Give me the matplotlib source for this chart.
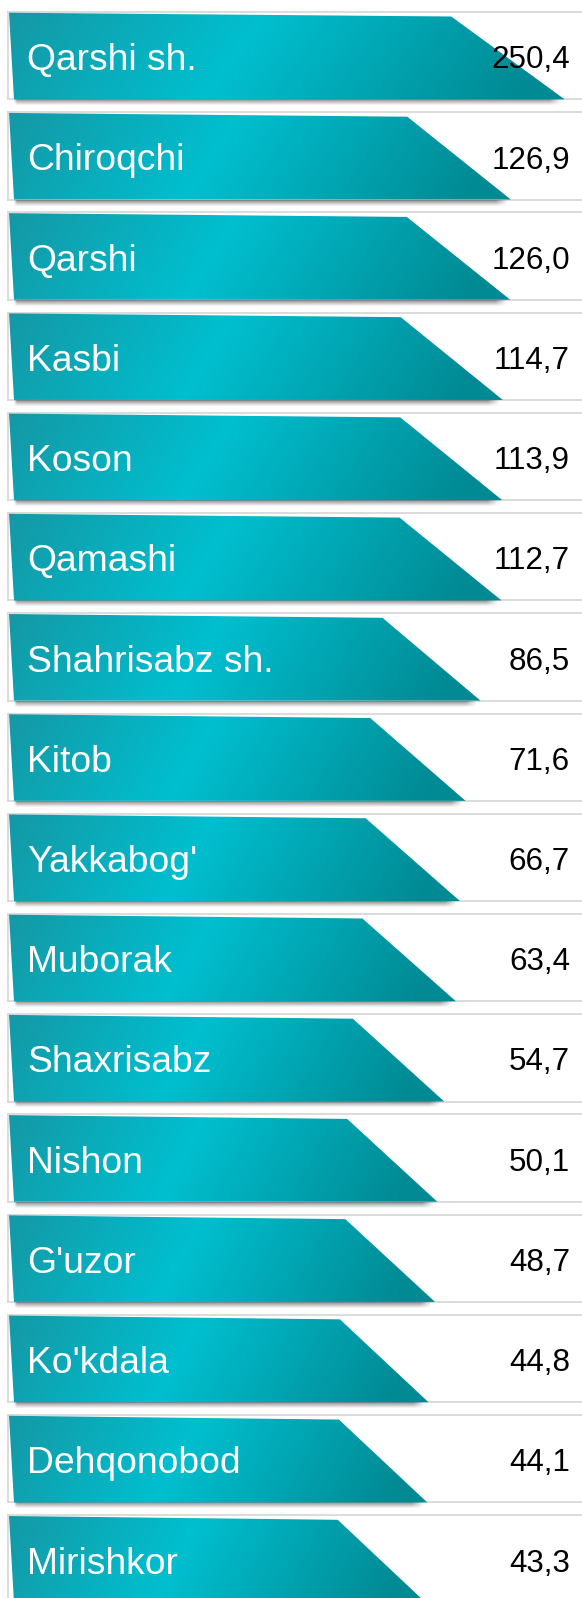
import numpy as np
import matplotlib
matplotlib.use("Agg")
import matplotlib.pyplot as plt
from matplotlib.patches import Polygon
from matplotlib import transforms
from matplotlib.colors import to_rgb

# ---- data ----
categories = ["Qarshi sh.", "Chiroqchi", "Qarshi", "Kasbi", "Koson", "Qamashi",
              "Shahrisabz sh.", "Kitob", "Yakkabog'", "Muborak", "Shaxrisabz",
              "Nishon", "G'uzor", "Ko'kdala", "Dehqonobod", "Mirishkor"]
values = [250.4, 126.9, 126.0, 114.7, 113.9, 112.7, 86.5, 71.6, 66.7, 63.4,
          54.7, 50.1, 48.7, 44.8, 44.1, 43.3]
value_labels = [f"{v:.1f}".replace(".", ",") for v in values]

# ---- layout / style ----
W, H = 582, 1598
PITCH = 100.22
TOP0 = 12.0
BAR_H = 87.3
FONT = "Liberation Sans"
C_LEFT = np.array(to_rgb("#1696a3"))
C_BRIGHT = np.array(to_rgb("#00bfcf"))
C_RIGHT = np.array(to_rgb("#018a94"))
FRAME = "#d9d9d9"

fig = plt.figure(figsize=(W / 100, H / 100), dpi=100)
fig.patch.set_facecolor("white")
ax = fig.add_axes([0, 0, 1, 1])
ax.set_xscale("log")
ax.set_xlim(0.234, 1889)
ax.set_ylim(H, 0)
ax.axis("off")

pix = transforms.blended_transform_factory(ax.transAxes, ax.transData)


def data2px(v):
    return ax.transData.transform((v, 0))[0]


def px2data(p):
    return ax.transData.inverted().transform((p, 0))[0]


vmin = min(values)
for i, (name, v, lab) in enumerate(zip(categories, values, value_labels)):
    y0 = TOP0 + i * PITCH
    yb = y0 + BAR_H
    # frame lines
    ax.plot([8 / W, 1.0], [y0, y0], transform=pix, color=FRAME, lw=1.3, zorder=1)
    ax.plot([8 / W, 8 / W], [y0, yb], transform=pix, color=FRAME, lw=1.3, zorder=1)
    ax.plot([8 / W, 1.0], [yb, yb], transform=pix, color=FRAME, lw=1.3, zorder=1)

    top_px = data2px(v)
    slant = 88 + 14.4 * np.log(v / vmin)
    bot_px = top_px + slant
    verts = [(px2data(9), y0 + 0.7), (v, y0 + 4.5),
             (px2data(bot_px), yb), (px2data(14), yb)]
    poly = Polygon(verts, closed=True, facecolor="none", edgecolor="none", zorder=3)
    ax.add_patch(poly)

    # shadow under the bar
    sx0, sx1 = 13, bot_px - 3
    sh_h = 7
    nx = int(sx1 - sx0) + 1
    xs = np.linspace(0, 1, nx)
    ys = np.linspace(0, 1, sh_h * 3)
    fade_x = np.clip(np.minimum((xs * (sx1 - sx0)) / 3, ((1 - xs) * (sx1 - sx0)) / 12), 0, 1)
    alpha = 0.78 * (1 - ys[:, None]) ** 1.1 * fade_x[None, :]
    shadow = np.zeros((len(ys), nx, 4))
    shadow[..., :3] = 0.32
    shadow[..., 3] = alpha
    ax.imshow(shadow, extent=[sx0 / W, sx1 / W, yb + sh_h, yb - 0.5], origin="upper",
              transform=pix, interpolation="bilinear", aspect="auto", zorder=2)

    # gradient fill clipped to the polygon
    gx0, gx1 = 8, bot_px + 1
    nx = int(gx1 - gx0) + 1
    ny = int(BAR_H) + 2
    xp = np.linspace(gx0, gx1, nx)
    yv = np.linspace(0, 1, ny)
    u = xp[None, :] / bot_px
    s = u - (0.47 - 0.11 * yv[:, None])
    img = np.zeros((ny, nx, 3))
    for c in range(3):
        img[..., c] = np.interp(s, [-0.47, 0.0, 0.55],
                                [C_LEFT[c], C_BRIGHT[c], C_RIGHT[c]])
    im = ax.imshow(img, extent=[gx0 / W, gx1 / W, yb + 1, y0 - 1], origin="upper",
                   transform=pix, interpolation="bilinear", aspect="auto", zorder=3)
    im.set_clip_path(poly)

    ax.text(27 / W, y0 + 58.2, name, transform=pix, color="white", fontsize=26.8,
            family=FONT, ha="left", va="baseline", zorder=5)
    ax.text(570 / W, y0 + 56.3, lab, transform=pix, color="black", fontsize=22.6,
            family=FONT, ha="right", va="baseline", zorder=5)

ax.set_xlim(0.234, 1889)
ax.set_ylim(H, 0)
fig.savefig("out.png", dpi=100, facecolor="white")
